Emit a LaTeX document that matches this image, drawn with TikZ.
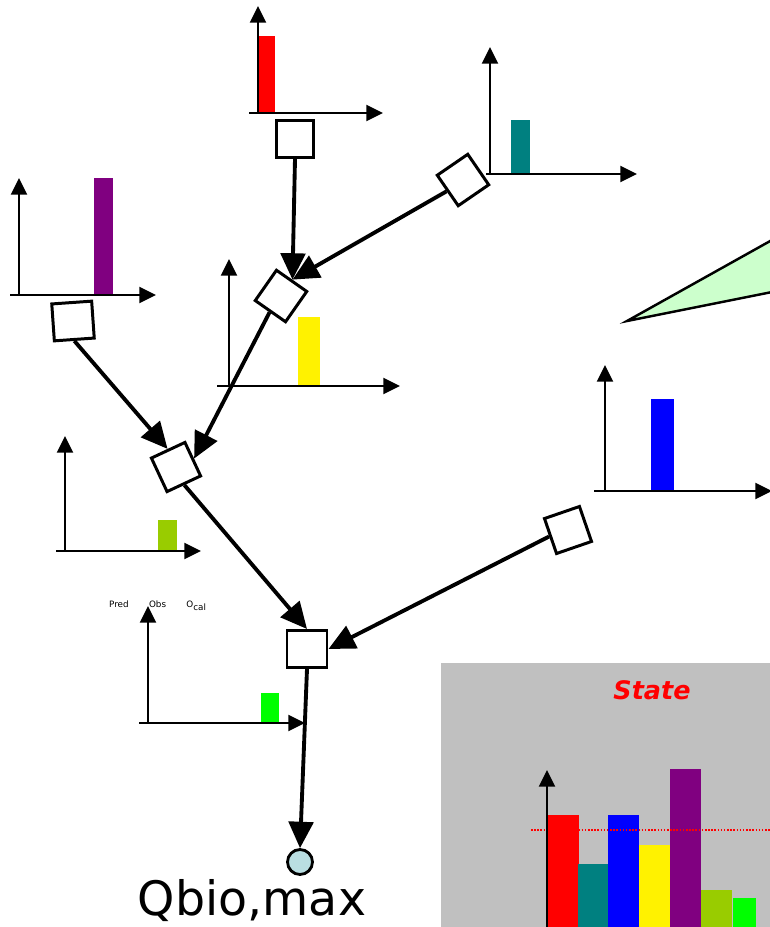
\documentclass[tikz,border=0pt]{standalone}
\usepackage{fontspec}
\setmainfont{DejaVu Sans}
\usetikzlibrary{arrows.meta}

\definecolor{tealbar}{RGB}{0,128,128}
\definecolor{purplebar}{RGB}{128,0,128}
\definecolor{limebar}{RGB}{153,204,0}
\definecolor{greenbar}{RGB}{0,255,0}
\definecolor{sinkfill}{RGB}{185,222,226}
\definecolor{wedgefill}{RGB}{204,255,204}
\definecolor{panelgray}{RGB}{192,192,192}

\tikzset{
  axis/.style={line width=1.6pt, -{Triangle[length=9.5pt,width=9pt]}},
  blockbox/.style={draw, line width=1.7pt, fill=white, minimum size=0.74cm, inner sep=0pt},
  sink/.style={circle, draw, line width=1.6pt, fill=sinkfill, minimum size=0.5cm, inner sep=0pt},
  flow/.style={line width=2.2pt, -{Triangle[length=15pt,width=14pt]}},
}

\begin{document}
\begin{tikzpicture}[x=0.02cm, y=-0.02cm]
    \useasboundingbox (0,0) rectangle (770,927);

    % --- small histograms on each branch ---
    % red
    \fill[red] (258,36) rectangle (275,113);
    \draw[axis] (249,113) -- (383,113);
    \draw[axis] (258,113) -- (258,6);

    % teal
    \fill[tealbar] (511,120) rectangle (530,174);
    \draw[axis] (486,174) -- (637,174);
    \draw[axis] (490,174) -- (490,47);

    % purple
    \fill[purplebar] (94,178) rectangle (113,295);
    \draw[axis] (10,295) -- (156,295);
    \draw[axis] (19,295) -- (19,178);

    % yellow
    \fill[yellow] (298,317) rectangle (320,386);
    \draw[axis] (217,386) -- (400,386);
    \draw[axis] (229,386) -- (229,259);

    % lime
    \fill[limebar] (158,520) rectangle (177,551);
    \draw[axis] (56,551) -- (201,551);
    \draw[axis] (65,551) -- (65,436);

    % blue
    \fill[blue] (651,399) rectangle (674,491);
    \draw[axis] (594,491) -- (772,491);
    \draw[axis] (605,491) -- (605,365);

    % green
    \fill[greenbar] (261,693) rectangle (279,723);
    \draw[axis] (139,723) -- (305,723);
    \draw[axis] (148,723) -- (148,606);
    \node[font=\fontsize{5}{5}\selectfont, anchor=south] (obslbl) at (158,617)
        {Pred \qquad Obs \qquad O\textsubscript{cal}};

    % wedge on the right edge
    \draw[line width=1.4pt, fill=wedgefill] (627,321) -- (772,240) -- (772,292) -- cycle;

    % --- reaches of the tree ---
    \node[blockbox] (top) at (295,139) {};
    \node[blockbox, rotate=34.5] (ne) at (463,180) {};
    \node[blockbox, rotate=55] (mid) at (281,296) {};
    \node[blockbox, rotate=4, minimum width=0.8cm] (west) at (73,321) {};
    \node[blockbox, rotate=25] (join) at (176,467) {};
    \node[blockbox, rotate=19] (east) at (568,530) {};
    \node[blockbox, minimum width=0.8cm] (outlet) at (307,649) {};
    \node[sink] (end) at (300,862) {};
    \node[font=\fontsize{27}{30}\selectfont] (qlbl) at (252,901) {Qbio,max};

    % flow between reaches
    \draw[flow] (top.south) -- (mid.east);
    \draw[flow] (ne.west) -- (mid.east);
    \draw[flow] (mid.west) -- (join.east);
    \draw[flow] (west.south) -- (join.north);
    \draw[flow] (join.south) -- (outlet.north);
    \draw[flow] (east.west) -- (outlet.east);
    \draw[flow] (outlet.south) -- (end.north);

    % --- state panel ---
    \fill[panelgray] (441,663) rectangle (770,927);
    \node[text=red, font=\fontsize{14.5}{16}\selectfont\bfseries\itshape] (statelbl) at (652,690) {State};
    \fill[red] (548,815) rectangle (579,927);
    \fill[tealbar] (578,864) rectangle (608,927);
    \fill[blue] (608,815) rectangle (639,927);
    \fill[yellow] (639,845) rectangle (670,927);
    \fill[purplebar] (670,769) rectangle (701,927);
    \fill[limebar] (701,890) rectangle (732,927);
    \fill[greenbar] (733,898) rectangle (756,927);
    \draw[red, line width=0.9pt, dash pattern=on 0.9pt off 0.9pt] (531,830) -- (770,830);
    \draw[axis] (547,927) -- (547,770);
\end{tikzpicture}
\end{document}
